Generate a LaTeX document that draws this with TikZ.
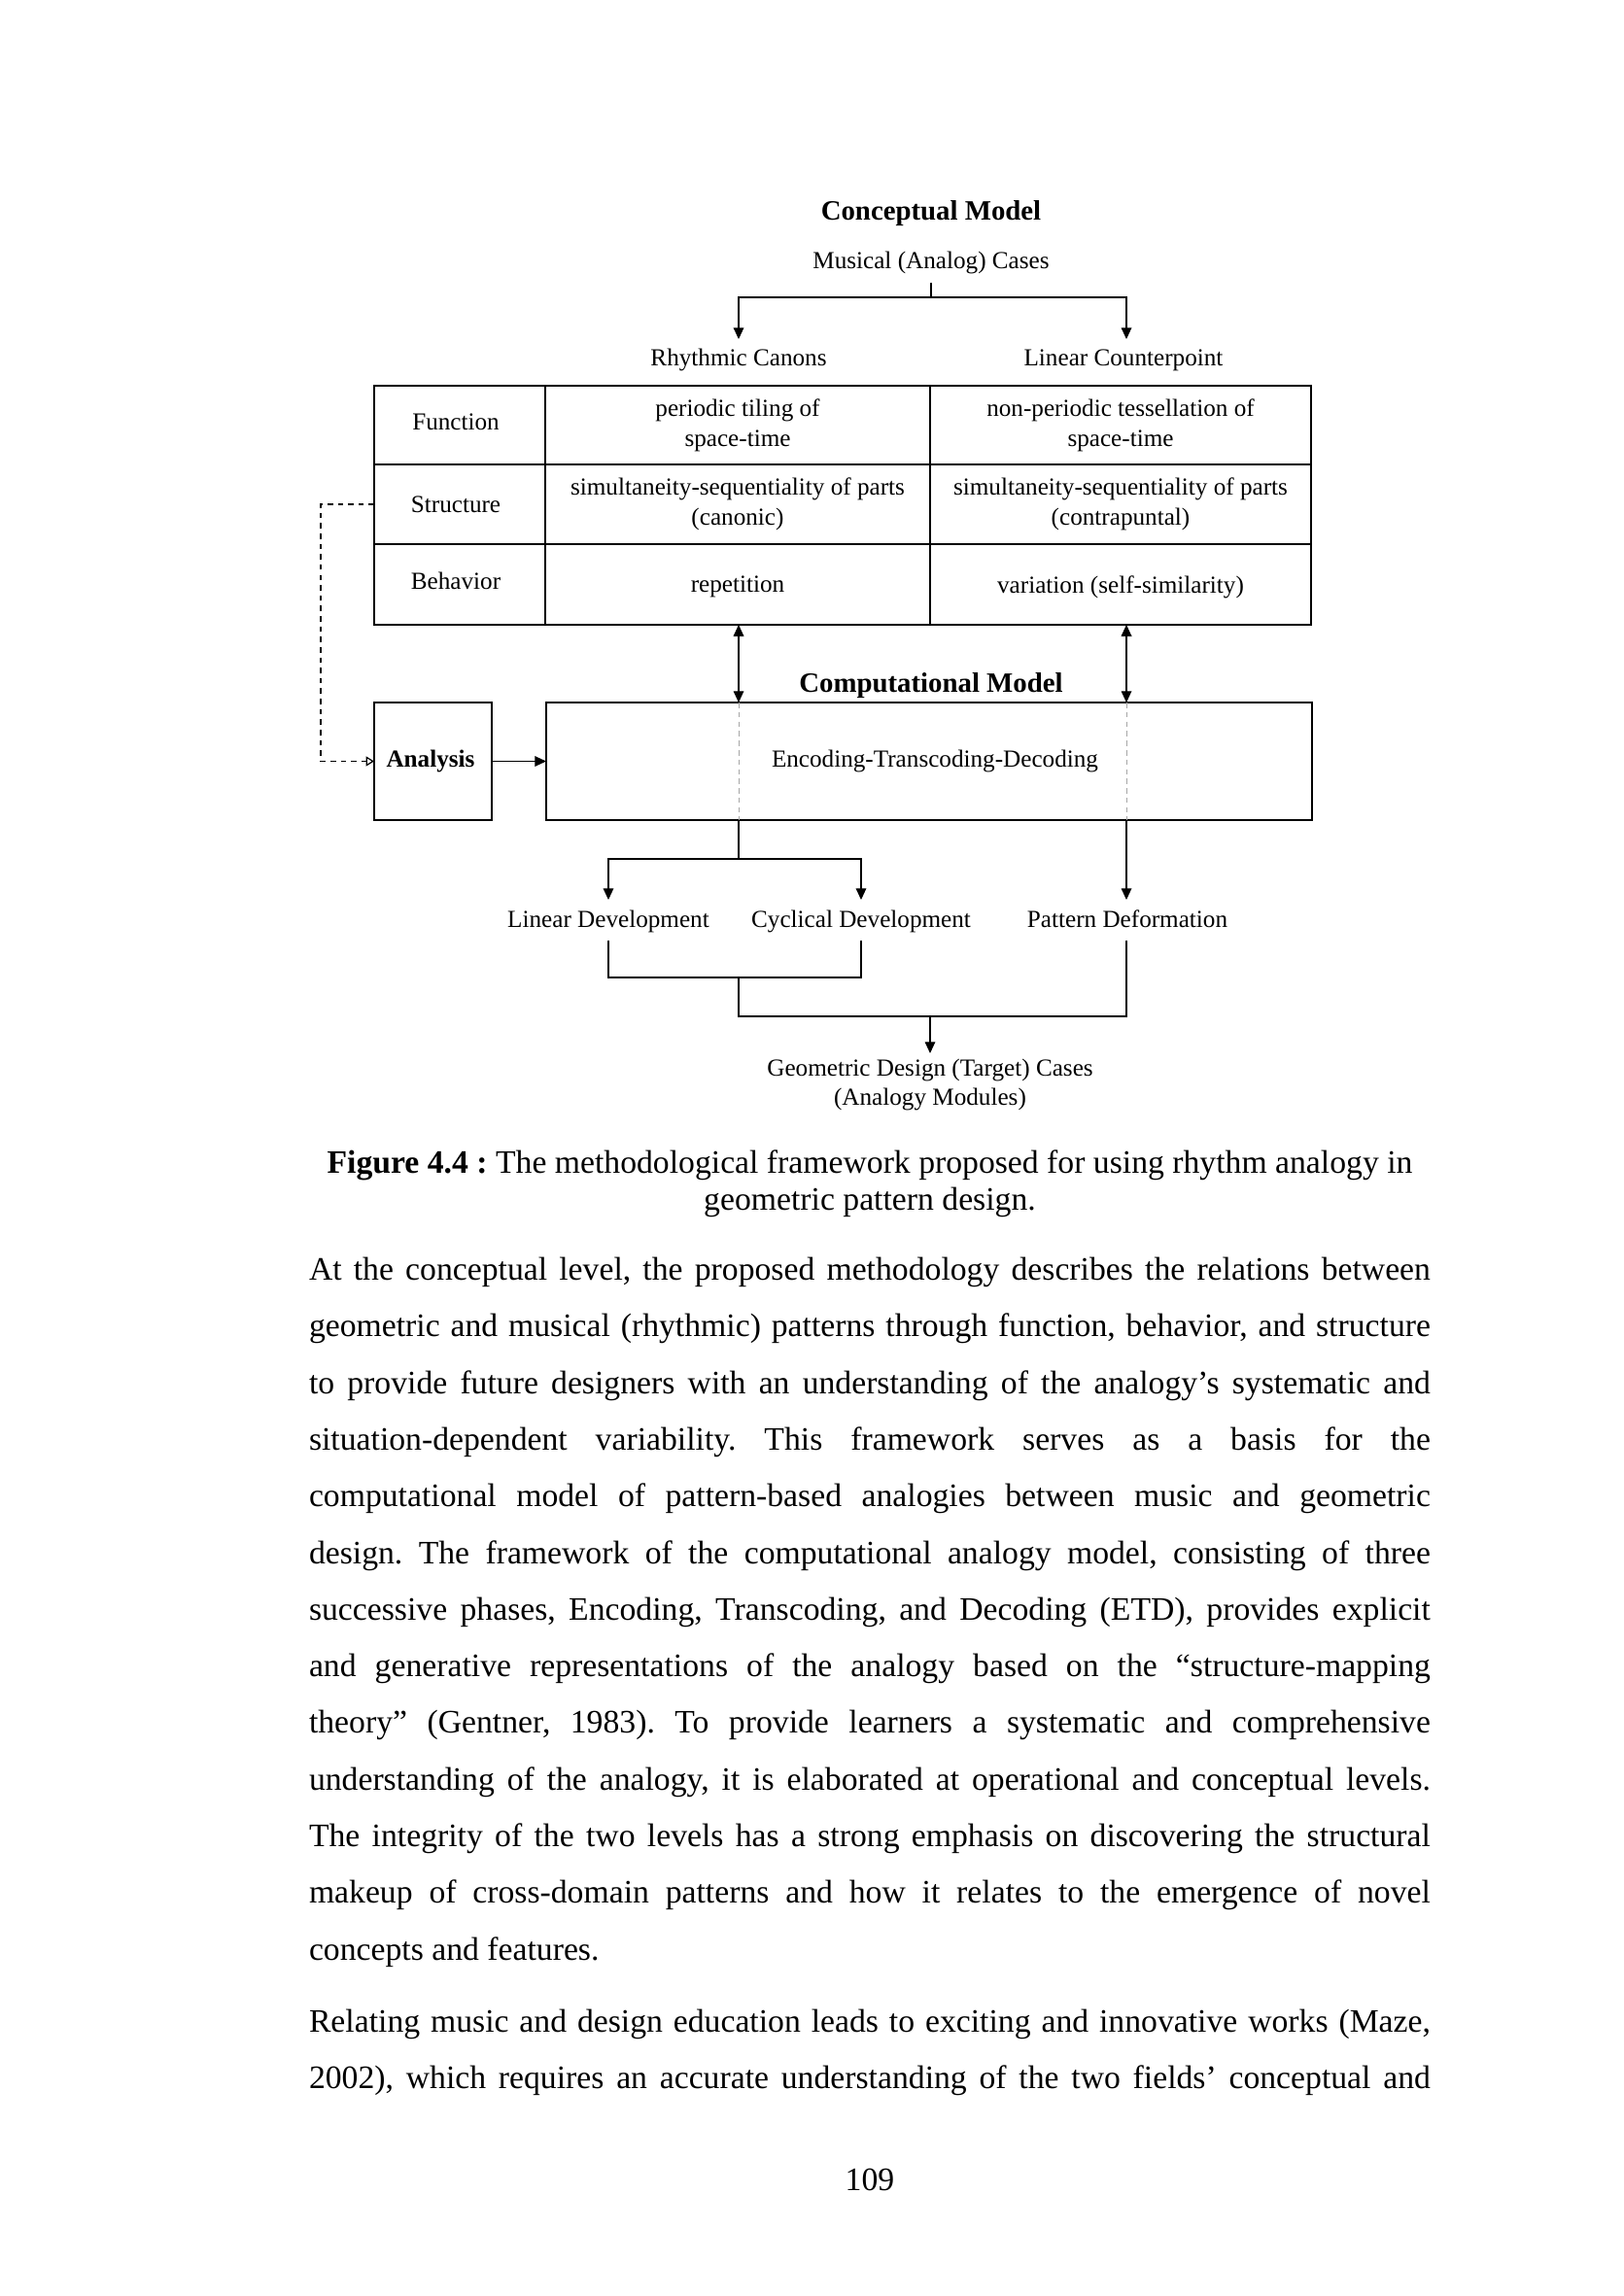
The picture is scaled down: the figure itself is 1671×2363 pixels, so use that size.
\documentclass[tikz,border=0pt]{standalone}
\usepackage{fontspec}
\setmainfont{Liberation Serif}
\usetikzlibrary{arrows.meta}
\newcommand\jline[1]{\makebox[412.6pt][s]{#1}}
\frenchspacing
\begin{document}
\frenchspacing
\begin{tikzpicture}[x=0.357568pt, y=-0.357568pt,
  every node/.style={inner sep=0pt, outer sep=0pt},
  dtext/.style={font=\fontsize{9}{11}\selectfont, align=center},
  dhead/.style={font=\fontsize{10.3}{12}\selectfont\bfseries},
  lab/.style={dtext, text height=7pt, text depth=2pt, inner xsep=2pt, inner ysep=3pt},
  cell/.style={draw, line width=0.7pt, dtext},
  boxx/.style={draw, line width=0.7pt},
  conn/.style={line width=0.45pt},
  arr/.style={conn, -{Triangle[length=4.2pt,width=3.8pt]}},
  darr/.style={conn, {Triangle[length=4.2pt,width=3.8pt]}-{Triangle[length=4.2pt,width=3.8pt]}},
  gdash/.style={line width=0.3pt, draw=black!35, dash pattern=on 2pt off 1.5pt},
  fb/.style={line width=0.45pt, dash pattern=on 2pt off 1.8pt, -{Triangle[open,length=3pt,width=3.6pt]}},
  body/.style={font=\fontsize{12.05}{14}\selectfont, anchor=base west},
  capt/.style={font=\fontsize{12.05}{14}\selectfont, anchor=base}]
\fill[white] (0,0) rectangle (1671,2363);
\path[use as bounding box] (0,0) rectangle (1671,2363);

% guide coordinates
\coordinate (L) at (760,0);
\coordinate (R) at (1159,0);

% conceptual model
\node[dhead] (cm) at (958,220) {Conceptual Model};
\node[lab] (mus) at (958,270) {Musical (Analog) Cases};
\node[lab] (rc) at (760,370) {Rhythmic Canons};
\node[lab] (lc) at (1156,370) {Linear Counterpoint};
\draw[conn] (mus.south) -- ++(0,15) coordinate (mj);
\draw[arr] (mj) -| (rc.north);
\draw[arr] (mj) -| (R |- lc.north);

% table
\node[cell, minimum width=62.93pt, minimum height=28.96pt] (f0) at (473,437.5) {};
\node[dtext] (f0t) at (469,434) {Function};
\node[cell, minimum width=141.6pt, minimum height=28.96pt] (f1) at (759,437.5) {periodic tiling of\\space-time};
\node[cell, minimum width=140.17pt, minimum height=28.96pt] (f2) at (1153,437.5) {non-periodic tessellation of\\space-time};
\node[cell, minimum width=62.93pt, minimum height=29.32pt] (s0) at (473,519) {};
\node[dtext] (s0t) at (469,519) {Structure};
\node[cell, minimum width=141.6pt, minimum height=29.32pt] (s1) at (759,519) {simultaneity-sequentiality of parts\\(canonic)};
\node[cell, minimum width=140.17pt, minimum height=29.32pt] (s2) at (1153,519) {simultaneity-sequentiality of parts\\(contrapuntal)};
\node[cell, minimum width=62.93pt, minimum height=29.68pt] (b0) at (473,601.5) {};
\node[dtext] (b0t) at (469,598) {Behavior};
\node[cell, minimum width=141.6pt, minimum height=29.68pt] (b1) at (759,601.5) {};
\node[dtext] (b1t) at (759,604) {repetition};
\node[cell, minimum width=140.17pt, minimum height=29.68pt] (b2) at (1153,601.5) {};
\node[dtext] (b2t) at (1153,604) {variation (self-similarity)};

% computational model
\node[dhead] (comp) at (958,706) {Computational Model};
\node[boxx, minimum width=43.27pt, minimum height=43.27pt] (ana) at (445.5,783.5) {};
\node[font=\fontsize{9}{11}\selectfont\bfseries] (anatext) at (443,783.5) {Analysis};
\node[boxx, minimum width=281.76pt, minimum height=43.27pt] (etd) at (956,783.5) {};
\node[dtext] (etdtext) at (962,783) {Encoding-Transcoding-Decoding};
\draw[gdash] (etd.north -| L) -- (etd.south -| L);
\draw[gdash] (etd.north -| R) -- (etd.south -| R);
\draw[darr] (b1.south -| L) -- (etd.north -| L);
\draw[darr] (b2.south -| R) -- (etd.north -| R);
\draw[arr] (ana.east) -- (etd.west);
\draw[fb] (s0.west) -- ++(-55,0) |- (ana.west);

% developments
\node[lab] (lin) at (626,947) {Linear Development};
\node[lab] (cyc) at (886,947) {Cyclical Development};
\node[lab] (pat) at (1160,947) {Pattern Deformation};
\draw[conn] (etd.south -| L) -- ++(0,40) coordinate (bj);
\draw[arr] (bj) -| (lin.north);
\draw[arr] (bj) -| (cyc.north);
\draw[arr] (etd.south -| R) -- (R |- pat.north);
\coordinate (m1) at (760,1006);
\coordinate (m2) at (760,1046);
\draw[conn] (lin.south) |- (cyc.south |- m1) -- (cyc.south);
\draw[conn] (m1) -- (m2) -| (R |- pat.south);
\node[dtext, anchor=north, inner sep=2pt] (geo) at (957,1084) {Geometric Design (Target) Cases\\(Analogy Modules)};
\draw[arr] (m2 -| geo.north) -- (geo.north);

% caption
\node[capt] (cap1) at (895,1207) {\textbf{Figure 4.4 :} The methodological framework proposed for using rhythm analogy in};
\node[capt] (cap2) at (895,1245) {geometric pattern design.};

% body text
\node[body] (t1) at (318,1317.5) {\jline{At the conceptual level, the proposed methodology describes the relations between}};
\node[body] (t2) at (318,1375.8) {\jline{geometric and musical (rhythmic) patterns through function, behavior, and structure}};
\node[body] (t3) at (318,1434.1) {\jline{to provide future designers with an understanding of the analogy’s systematic and}};
\node[body] (t4) at (318,1492.4) {\jline{situation-dependent variability. This framework serves as a basis for the}};
\node[body] (t5) at (318,1550.7) {\jline{computational model of pattern-based analogies between music and geometric}};
\node[body] (t6) at (318,1609.0) {\jline{design. The framework of the computational analogy model, consisting of three}};
\node[body] (t7) at (318,1667.3) {\jline{successive phases, Encoding, Transcoding, and Decoding (ETD), provides explicit}};
\node[body] (t8) at (318,1725.6) {\jline{and generative representations of the analogy based on the “structure-mapping}};
\node[body] (t9) at (318,1783.9) {\jline{theory” (Gentner, 1983). To provide learners a systematic and comprehensive}};
\node[body] (t10) at (318,1842.2) {\jline{understanding of the analogy, it is elaborated at operational and conceptual levels.}};
\node[body] (t11) at (318,1900.5) {\jline{The integrity of the two levels has a strong emphasis on discovering the structural}};
\node[body] (t12) at (318,1958.8) {\jline{makeup of cross-domain patterns and how it relates to the emergence of novel}};
\node[body] (t13) at (318,2017.1) {concepts and features.};
\node[body] (u1) at (318,2091) {\jline{Relating music and design education leads to exciting and innovative works (Maze,}};
\node[body] (u2) at (318,2149) {\jline{2002), which requires an accurate understanding of the two fields’ conceptual and}};

% page number
\node[capt] (pg) at (895,2254) {109};
\end{tikzpicture}
\end{document}
